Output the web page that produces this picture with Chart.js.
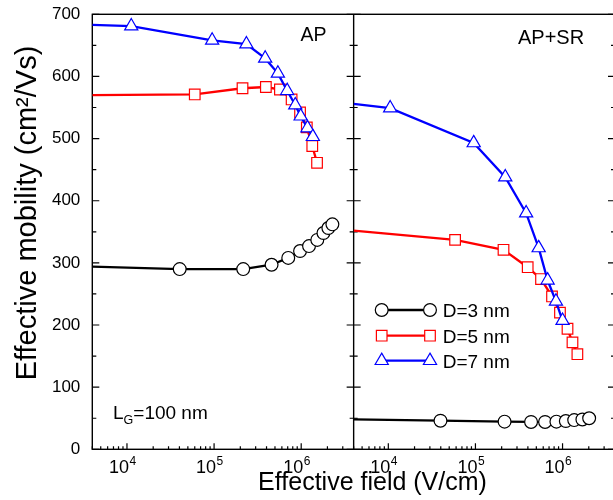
<!DOCTYPE html>
<html>
<head>
<meta charset="utf-8">
<script src="https://cdn.jsdelivr.net/npm/chart.js@4.4.0/dist/chart.umd.min.js"></script>
<style>
  html, body { margin: 0; padding: 0; background: #fff; overflow: hidden; }
  #wrap { position: relative; width: 615px; height: 500px; }
</style>
</head>
<body>
<div id="wrap"><canvas id="mobChart"></canvas></div>
<script>
// effective field (V/cm) and mobility (cm2/Vs)
// left panel: AP
const fieldAP3 = [4000, 4.03e4, 2.16e5, 4.57e5, 7.1e5, 9.7e5, 1.23e6, 1.53e6, 1.8e6, 2.05e6, 2.28e6];
const mobAP3   = [294, 290, 290, 297, 308, 319, 327, 337, 348, 356, 362];
const fieldAP5 = [4000, 6.0e4, 2.12e5, 3.93e5, 5.7e5, 7.76e5, 9.7e5, 1.16e6, 1.34e6, 1.52e6];
const mobAP5   = [570, 571, 581, 583, 579, 563, 542, 518, 488, 461];
const fieldAP7 = [4000, 1.12e4, 9.5e4, 2.35e5, 3.86e5, 5.4e5, 6.9e5, 8.55e5, 9.86e5, 1.18e6, 1.36e6];
const mobAP7   = [683, 681, 658, 652, 629, 605, 577, 554, 536, 517, 503];

// right panel: AP+SR
const fieldSR3 = [4000, 3.97e4, 2.16e5, 4.35e5, 6.3e5, 8.5e5, 1.09e6, 1.36e6, 1.69e6, 2.02e6];
const mobSR3   = [48, 46, 44.5, 44, 44, 44.5, 45.5, 47, 48, 50];
const fieldSR5 = [4000, 5.84e4, 2.1e5, 3.98e5, 5.66e5, 7.57e5, 9.34e5, 1.14e6, 1.3e6, 1.48e6];
const mobSR5   = [352, 337, 321, 293, 274, 246, 220, 194, 172, 153];
const fieldSR7 = [4000, 1.05e4, 9.55e4, 2.2e5, 3.82e5, 5.32e5, 6.74e5, 8.4e5, 1.0e6];
const mobSR7   = [556, 549, 493, 438, 380, 324, 272, 238, 207];

const seriesNames = ['D=3 nm', 'D=5 nm', 'D=7 nm'];
const xMajorTicks = [1e4, 1e5, 1e6];
const xTickExp = ['4', '5', '6'];
const panelLabels = ['AP', 'AP+SR'];

const FONT = '"Liberation Sans", Arial, Helvetica, sans-serif';
Chart.defaults.font.family = FONT;

const styles = [
  { color: '#000000', shape: 'circle', r: 6.4 },
  { color: '#ff0000', shape: 'rect', r: 7.5 },
  { color: '#0000ff', shape: 'triangle', r: 7.6 }
];

function toPts(xs, ys) {
  return xs.map((x, i) => ({ x: x, y: ys[i] }));
}

function makeSet(k, xs, ys, axis) {
  const s = styles[k];
  return {
    label: seriesNames[k],
    data: toPts(xs, ys),
    xAxisID: axis,
    borderColor: s.color,
    borderWidth: 2.3,
    pointStyle: s.shape,
    pointRadius: ctx => ctx.dataIndex === 0 ? 0 : s.r,
    pointHoverRadius: ctx => ctx.dataIndex === 0 ? 0 : s.r,
    pointBackgroundColor: '#ffffff',
    pointBorderColor: s.color,
    pointBorderWidth: 1.2,
    tension: 0
  };
}

// minor decade ticks for the log axes
function logTicks(scale) {
  const t = [];
  for (let k = 3; k <= 6; k++) {
    for (let m = 1; m <= 9; m++) {
      const v = m * Math.pow(10, k);
      if (v >= scale.min && v <= scale.max) t.push({ value: v, major: m === 1 });
    }
  }
  scale.ticks = t;
}

function xScale() {
  return {
    type: 'logarithmic',
    position: 'bottom',
    stack: 'field',
    stackWeight: 1,
    min: 4000,
    max: 4e6,
    grid: { display: false, drawTicks: false },
    border: { display: false },
    ticks: { display: false },
    afterBuildTicks: logTicks,
    afterFit: s => { s.height = 50.7; }
  };
}

const framePlugin = {
  id: 'frame',
  beforeDatasetsDraw(chart) {
    const ctx = chart.ctx;
    const a = chart.chartArea;
    const x1 = chart.scales.x1, x2 = chart.scales.x2, y = chart.scales.y;
    ctx.save();
    ctx.strokeStyle = '#000';
    ctx.lineWidth = 1.4;
    ctx.strokeRect(a.left, a.top, a.right - a.left, a.bottom - a.top);
    ctx.beginPath();
    ctx.moveTo(x1.right, a.top);
    ctx.lineTo(x1.right, a.bottom);
    ctx.stroke();

    ctx.lineWidth = 1.2;
    ctx.beginPath();
    y.ticks.forEach(t => {
      const p = y.getPixelForValue(t.value);
      const len = t.value % 100 === 0 ? 7 : 4;
      [x1, x2].forEach(sc => {
        ctx.moveTo(sc.left, p); ctx.lineTo(sc.left + len, p);
        ctx.moveTo(sc.right, p); ctx.lineTo(sc.right - len, p);
      });
    });
    [x1, x2].forEach(sc => {
      sc.ticks.forEach(t => {
        const p = sc.getPixelForValue(t.value);
        const len = t.major ? 6 : 3;
        ctx.moveTo(p, a.bottom); ctx.lineTo(p, a.bottom - len);
      });
    });
    ctx.stroke();
    ctx.restore();
  },
  afterDraw(chart) {
    const ctx = chart.ctx;
    const x1 = chart.scales.x1, x2 = chart.scales.x2;
    ctx.save();
    ctx.fillStyle = '#000';

    // decade labels 10^n
    [x1, x2].forEach(sc => {
      xMajorTicks.forEach((v, i) => {
        const p = sc.getPixelForValue(v);
        ctx.font = '18px ' + FONT;
        ctx.textAlign = 'right';
        ctx.fillText('10', p + 2, 473);
        ctx.font = '12px ' + FONT;
        ctx.textAlign = 'left';
        ctx.fillText(xTickExp[i], p + 2.5, 465);
      });
    });

    // panel labels
    ctx.textAlign = 'left';
    ctx.font = '19.5px ' + FONT;
    ctx.fillText(panelLabels[0], 300.5, 40.7);
    ctx.font = '20px ' + FONT;
    ctx.fillText(panelLabels[1], 518, 44);

    // L_G = 100 nm
    ctx.font = '19px ' + FONT;
    ctx.fillText('L', 113, 419);
    let w = ctx.measureText('L').width;
    ctx.font = '12.5px ' + FONT;
    ctx.fillText('G', 113 + w, 424);
    const wg = ctx.measureText('G').width;
    ctx.font = '19px ' + FONT;
    ctx.fillText('=100 nm', 113 + w + wg, 419);

    // legend
    const rows = [310, 335.7, 360.7];
    rows.forEach((ry, k) => {
      const s = styles[k];
      ctx.strokeStyle = s.color;
      ctx.lineWidth = 2.3;
      ctx.beginPath();
      ctx.moveTo(381.7, ry); ctx.lineTo(430, ry);
      ctx.stroke();
      ctx.fillStyle = '#fff';
      ctx.lineWidth = 1.2;
      [381.7, 430].forEach(px => {
        Chart.helpers.drawPoint(ctx, { pointStyle: s.shape, radius: s.r, rotation: 0, borderWidth: 1.2 }, px, ry);
      });
      ctx.fillStyle = '#000';
      ctx.font = '19px ' + FONT;
      ctx.fillText(seriesNames[k], 442.7, ry + 6.8);
    });

    // axis titles
    ctx.font = '25px ' + FONT;
    ctx.textAlign = 'center';
    ctx.fillText('Effective field (V/cm)', 372.5, 490);
    ctx.save();
    ctx.translate(36, 213);
    ctx.rotate(-Math.PI / 2);
    ctx.font = '29px ' + FONT;
    ctx.fillText('Effective mobility (cm\u00B2/Vs)', 0, 0);
    ctx.restore();

    ctx.restore();
  }
};

new Chart(document.getElementById('mobChart'), {
  type: 'line',
  data: {
    datasets: [
      makeSet(2, fieldAP7, mobAP7, 'x1'),
      makeSet(1, fieldAP5, mobAP5, 'x1'),
      makeSet(0, fieldAP3, mobAP3, 'x1'),
      makeSet(2, fieldSR7, mobSR7, 'x2'),
      makeSet(1, fieldSR5, mobSR5, 'x2'),
      makeSet(0, fieldSR3, mobSR3, 'x2')
    ]
  },
  options: {
    responsive: true,
    maintainAspectRatio: false,
    animation: false,
    devicePixelRatio: 1,
    layout: { autoPadding: false, padding: { top: 14.3, left: 0, right: 0, bottom: 0 } },
    plugins: { legend: { display: false }, tooltip: { enabled: false } },
    scales: {
      x1: xScale(),
      x2: xScale(),
      y: {
        type: 'linear',
        position: 'left',
        min: 0,
        max: 700,
        grid: { display: false, drawTicks: false },
        border: { display: false },
        ticks: {
          stepSize: 50,
          autoSkip: false,
          padding: 12,
          color: '#000',
          font: { size: 17 },
          callback: v => (v % 100 === 0 ? String(v) : '')
        },
        afterFit: s => {
          s.width = 92.3;
          s.paddingTop = 0;
          s.paddingBottom = 0;
        }
      }
    }
  },
  plugins: [framePlugin]
});
</script>
</body>
</html>
